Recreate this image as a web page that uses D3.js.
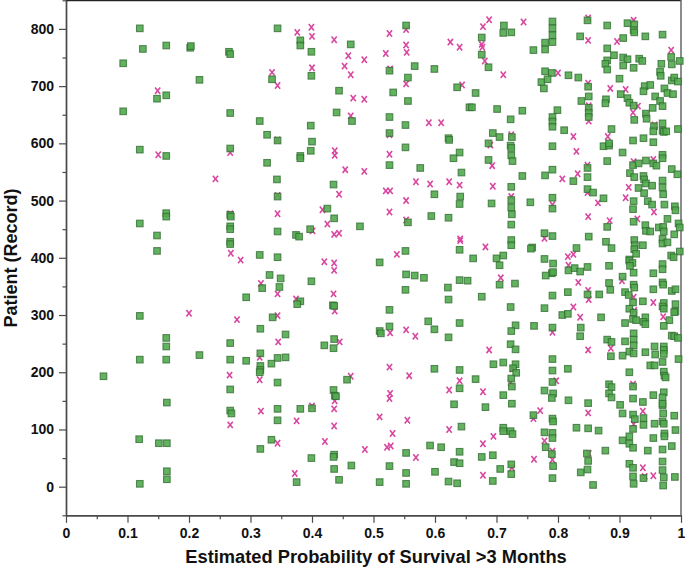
<!DOCTYPE html>
<html><head><meta charset="utf-8">
<script src="https://cdn.jsdelivr.net/npm/d3@7"></script>
<style>html,body{margin:0;padding:0;background:#fff}svg{display:block}</style>
</head><body><svg id="c" width="685" height="568"></svg>
<script>
const xMajor=[0,.1,.2,.3,.4,.5,.6,.7,.8,.9,1];
const xMinor=[.05,.15,.25,.35,.45,.55,.65,.75,.85,.95];
const yMajor=[0,100,200,300,400,500,600,700,800];
const yMinor=[-50,50,150,250,350,450,550,650,750,850];
const xTitle="Estimated Probability of Survival >3 Months";
const yTitle="Patient (Record)";
const greenPts=[[.12,801],[.125,765],[.163,771],[.202,767],[.203,770],[.265,760],[.267,756],[.093,740],[.217,711],[.148,678],[.163,684],[.093,656],[.267,653],[.12,589],[.267,591],[.163,578],[.163,478],[.163,472],[.267,475],[.268,472],[.12,460],[.148,439],[.267,455],[.267,450],[.267,428],[.267,424],[.148,412],
[.12,298.5],[.267,251],[.163,260],[.163,245],[.12,222],[.163,222],[.217,230],[.267,222],[.061,193],[.267,170],[.164,147],[.267,133],[.269,128],[.119,83],[.151,76],[.164,76],[.164,27],[.164,13],[.12,5],
[.344,801],[.381,780],[.381,771],[.399,760],[.463,773],[.553,806],[.335,712],[.399,718],[.444,692],[.526,727],[.556,715],[.567,735],[.599,730],[.532,689],[.556,674],[.636,698],[.656,663],[.44,654],[.465,639],[.526,646],[.552,632],[.315,639],[.327,615],[.344,605],[.398,631],[.4,603],[.398,587],[.381,578],[.381,574],[.327,566],[.526,618],[.552,593],[.526,562],[.576,557],[.622,609],[.623,606],[.64,584],[.63,574],[.643,549],[.343,537],[.344,507],[.435,528],[.599,511],[.641,507],[.64,494],[.425,486],[.436,469],[.594,473],[.622,470],[.556,462],[.478,455],[.344,446],[.397,450],[.374,440],[.379,437],[.315,405],[.344,401],[.552,412],[.64,414],
[.51,392],[.331,370],[.349,364],[.399,359],[.347,349],[.319,347],[.293,331],[.553,371],[.567,369],[.582,365],[.64,361],[.653,360],[.621,348],[.622,327],[.552,344],[.381,324],[.376,319],[.434,317],[.436,316],[.526,309],[.336,296],[.316,276],[.357,266],[.526,280],[.51,272],[.512,268],[.589,289],[.599,275],[.622,261],[.64,286],[.436,258],[.42,247],[.435,242],[.316,233],[.344,225],[.357,226],[.293,220],[.334,215],[.316,211],[.316,204],[.315,200],[.344,182],[.457,187],[.599,206],[.64,204],[.435,169],[.437,159],[.439,158],[.64,172],[.631,144],[.344,136],[.381,136],[.4,137],[.344,116],[.643,105],[.334,82],[.316,66],[.592,72],[.61,69],[.399,50],[.436,56],[.435,52],[.553,59],[.64,61],[.631,43],[.64,41],[.436,31],[.464,37],[.526,36],[.553,24],[.6,26],[.375,8],[.444,12],[.51,8],[.553,5],[.622,9],[.636,6],
[.791,813],[.791,801],[.791,789],[.791,777],[.779,776],[.779,764],[.76,763],[.836,787],[.848,815],[.712,806],[.711,793],[.724,794],[.676,785],[.676,755],[.687,733],[.88,806],[.913,810],[.924,808],[.923,798],[.924,794],[.906,784],[.942,787],[.97,790],[.88,766],[.891,754],[.906,750],[.913,747],[.932,748],[.937,744],[.88,745],[.877,739],[.88,729],[.906,736],[.923,732],[.968,739],[.984,751],[.985,738],[.998,744],[.779,726],[.79,723],[.773,707],[.783,712],[.777,696],[.817,719],[.833,715],[.849,699],[.85,682],[.838,674],[.878,677],[.877,670],[.9,713],[.902,686],[.913,679],[.916,671],[.923,666],[.941,700],[.95,702],[.939,691],[.966,725],[.967,718],[.985,710],[.989,715],[.995,708],[.973,696],[.978,688],[.987,686],[.958,682],[.966,674],[.97,665],[.954,662],[.943,652],[.944,643],[.924,641],[.97,635],[.956,630],[.955,621],[.97,622],[.972,620],[.976,621],[.995,625],[.887,625],[.939,609],[.922,605],[.955,602],[.799,658],[.791,646],[.791,638],[.791,629],[.81,623],[.85,662],[.85,653],[.85,646],[.666,688],[.66,663],[.701,660],[.742,657],[.723,642],[.694,618],[.705,611],[.725,611],[.687,600],[.723,596],[.724,592],[.791,595],[.874,595],[.883,596],[.883,600],[.905,584],[.88,569],[.724,579],[.726,569],[.687,571],[.97,580],[.97,574],[.922,562],[.931,565],[.943,570],[.955,565],[.96,561],[.985,555],[.994,546],[.917,548],[.924,541],[.939,543],[.94,537],[.943,530],[.953,526],[.97,535],[.97,523],[.971,511],[.931,522],[.94,513],[.848,557],[.848,541],[.791,554],[.779,544],[.742,543],[.825,534],[.724,524],[.848,520],[.857,514],[.874,504],[.791,505],[.791,486],[.724,501],[.724,488],[.725,476],[.692,495],[.755,497],[.923,499],[.922,485],[.946,499],[.953,493],[.973,493],[.99,490],[.991,483],[.978,468],[.996,460],[.998,453],[.942,457],[.943,447],[.95,446],[.964,453],[.971,454],[.972,446],[.989,441],[.97,433],[.97,425],[.978,427],[.923,463],[.88,454],[.778,443],[.791,438],[.724,458],[.724,431],[.724,422],[.85,437],[.878,428],[.887,417],[.924,431],[.925,422],[.924,415],[.927,407],[.938,422],[.83,417],[.758,418],[.756,416],[.998,411],[.984,404],[.988,401],[.711,404],[.7,399],[.778,398],[.916,397],
[.662,399],[.705,387],[.792,390],[.79,373],[.792,375],[.78,369],[.817,378],[.827,382],[.836,376],[.848,384],[.883,386],[.916,395],[.921,391],[.917,386],[.923,374],[.97,389],[.97,380],[.955,373],[.905,367],[.705,353],[.73,355],[.883,356],[.885,344],[.923,353],[.924,348],[.97,357],[.971,353],[.955,345],[.985,342],[.991,345],[.791,334],[.816,340],[.848,336],[.867,336],[.909,340],[.915,335],[.676,332],[.922,322],[.938,324],[.972,321],[.97,315],[.972,311],[.991,319],[.991,306],[.989,305],[.916,311],[.923,304],[.922,293],[.927,291],[.942,296],[.939,288],[.942,284],[.981,291],[.972,281],[.909,286],[.723,314],[.778,312],[.807,300],[.816,302],[.87,296],[.731,282],[.724,272],[.761,281],[.791,278],[.837,278],[.836,263],[.88,257],[.887,253],[.909,254],[.923,268],[.923,257],[.923,247],[.916,236],[.923,233],[.985,264],[.989,263],[.995,260],[.723,249],[.731,240],[.957,245],[.958,231],[.972,245],[.972,239],[.972,232],[.942,235],[.905,229],[.886,228],[.791,223],[.996,223],[.695,214],[.711,217],[.731,214],[.727,207],[.732,199],[.724,189],[.791,203],[.816,206],[.95,212],[.957,212],[.97,218],[.666,188],[.916,200],[.972,201],[.973,194],[.975,191],[.725,175],[.791,183],[.883,179],[.887,174],[.883,163],[.887,156],[.922,175],[.922,154],[.955,160],[.938,148],[.972,165],[.97,156],[.97,142],[.97,145],[.711,160],[.725,145],[.778,168],[.792,163],[.79,155],[.817,151],[.849,146],[.901,143],[.682,139],[.76,125],[.905,128],[.922,126],[.925,118],[.791,119],[.792,114],[.939,120],[.939,108],[.971,128],[.97,114],[.972,110],[.989,124],[.957,110],[.711,103],[.711,97],[.723,97],[.726,92],[.83,103],[.849,102],[.866,98],[.922,101],[.778,95],[.791,94],[.791,85],[.991,99],[.973,93],[.973,88],[.955,85],[.916,88],[.905,81],[.916,75],[.922,68],[.78,69],[.877,63],[.946,63],[.97,65],[.985,71],[.676,52],[.694,55],[.79,57],[.847,58],[.849,45],[.724,39],[.706,31],[.724,22],[.792,36],[.791,15],[.837,25],[.848,30],[.916,40],[.922,33],[.922,18],[.923,5],[.939,15],[.97,44],[.97,29],[.972,16],[.971,2],[.99,17],[.694,10],[.857,3]];
const magentaPts=[[.149,692],[.15,580],[.267,584],[.243,538],[.267,477],[.268,408],[.284,396],[.2,303],[.278,292],[.266,195],[.267,108],
[.399,803],[.376,794],[.4,787],[.436,781],[.526,792],[.553,799],[.625,777],[.64,768],[.553,772],[.554,759],[.52,757],[.459,753],[.485,746],[.453,735],[.4,732],[.463,720],[.527,730],[.335,724],[.344,701],[.553,704],[.644,702],[.467,679],[.485,677],[.463,648],[.59,636],[.61,636],[.526,615],[.344,606],[.437,587],[.437,579],[.526,581],[.454,554],[.485,551],[.569,533],[.592,529],[.623,533],[.64,527],[.444,511],[.52,517],[.527,517],[.553,500],[.344,509],[.344,477],[.417,484],[.526,480],[.425,459],[.553,466],[.401,447],[.436,441],[.444,443],[.641,433],[.641,430],[.538,406],
[.42,393],[.436,391],[.436,378],[.317,355],[.344,337],[.374,328],[.435,337],[.437,307],[.344,299],[.345,253],[.527,269],[.553,274],[.568,263],[.445,253],[.315,226],[.315,187],[.526,209],[.558,194],[.463,193],[.64,185],[.623,169],[.527,163],[.526,154],[.437,150],[.4,141],[.317,132],[.436,136],[.375,115],[.436,106],[.51,122],[.555,116],[.623,100],[.531,93],[.344,76],[.421,79],[.486,65],[.522,69],[.528,71],[.569,51],[.372,23],
[.688,816],[.678,804],[.744,812],[.849,819],[.849,780],[.896,778],[.923,815],[.676,773],[.677,768],[.681,744],[.711,720],[.8,723],[.849,705],[.885,696],[.91,694],[.93,665],[.85,666],[.922,654],[.943,650],[.85,639],[.957,632],[.724,615],[.825,612],[.881,612],[.69,597],[.83,586],[.693,561],[.923,568],[.955,572],[.848,562],[.807,538],[.832,547],[.915,523],[.694,525],[.91,505],[.848,514],[.865,496],[.724,507],[.791,493],[.956,480],[.849,472],[.884,465],[.929,468],[.778,434],[.682,419],[.816,402],[.825,406],[.984,763],
[.817,387],[.707,365],[.833,357],[.904,360],[.849,343],[.85,327],[.923,331],[.955,322],[.924,308],[.825,314],[.836,296],[.971,297],[.791,270],[.688,239],[.849,239],[.886,242],[.726,206],[.797,185],[.723,182],[.922,179],[.678,166],[.771,133],[.76,119],[.849,129],[.938,132],[.923,109],[.695,88],[.678,75],[.778,80],[.761,48],[.791,62],[.791,47],[.85,58],[.725,33],[.678,20],[.938,33],[.955,19],[.941,18]];

const svg=d3.select("#c");
const font="'Liberation Sans',Arial,sans-serif";
const x=d3.scaleLinear().domain([0,1]).range([66,681]);
const y=d3.scaleLinear().domain([-50,850]).range([515.3,0.3]);
const axisCol="#4a4a4a";

svg.append("line").attr("x1",66).attr("x2",681).attr("y1",0.5).attr("y2",0.5).attr("stroke","#222").attr("stroke-width",1.5);
svg.append("line").attr("x1",681).attr("x2",681).attr("y1",0).attr("y2",516).attr("stroke","#666").attr("stroke-width",1.5);

const magG=svg.append("g").attr("stroke","#d8479f").attr("stroke-width",1.6).attr("fill","none");
magG.selectAll("path").data(magentaPts).join("path")
  .attr("transform",d=>`translate(${x(d[0])},${y(d[1])})`)
  .attr("d","M-2.6,-3.2L2.6,3.2M2.6,-3.2L-2.6,3.2");
svg.append("g").selectAll("rect").data(greenPts).join("rect")
  .attr("x",d=>x(d[0])-3.3).attr("y",d=>y(d[1])-3.3).attr("width",6.6).attr("height",6.6)
  .attr("fill","#52aa4e").attr("fill-opacity",.9)
  .attr("stroke","#2f6a2f").attr("stroke-opacity",.75).attr("stroke-width",1.1);

function styleAxis(g){
  g.selectAll(".domain").attr("stroke",axisCol).attr("stroke-width",1.4);
  g.selectAll(".tick line").attr("stroke",axisCol).attr("stroke-width",1.2);
  g.selectAll("text").attr("font-family",font).attr("font-size",14).attr("font-weight","bold").attr("fill","#111");
}
const xFmt=d=>d===0?"0":d===1?"1":d3.format(".1f")(d);
const t=515.3;
svg.append("g").attr("transform",`translate(0,${t})`).call(d3.axisBottom(x).tickValues(xMinor).tickSize(4).tickFormat("").tickSizeOuter(0)).call(styleAxis);
svg.append("g").attr("transform",`translate(0,${t})`).call(d3.axisBottom(x).tickValues(xMajor).tickSize(7.5).tickPadding(5.5).tickFormat(xFmt).tickSizeOuter(0)).call(styleAxis);
svg.append("g").attr("transform","translate(66,0)").call(d3.axisLeft(y).tickValues(yMinor).tickSize(3.5).tickFormat("").tickSizeOuter(0)).call(styleAxis);
svg.append("g").attr("transform","translate(66,0)").call(d3.axisLeft(y).tickValues(yMajor).tickSize(7).tickPadding(5).tickFormat(d3.format("d")).tickSizeOuter(0)).call(styleAxis);

svg.append("text").attr("x",376).attr("y",563).attr("text-anchor","middle").attr("font-family",font).attr("font-weight","bold").attr("font-size",18.3).attr("fill","#111").text(xTitle);
svg.append("text").attr("transform","translate(17,258) rotate(-90)").attr("text-anchor","middle").attr("font-family",font).attr("font-weight","bold").attr("font-size",18).attr("fill","#111").text(yTitle);
</script></body></html>
